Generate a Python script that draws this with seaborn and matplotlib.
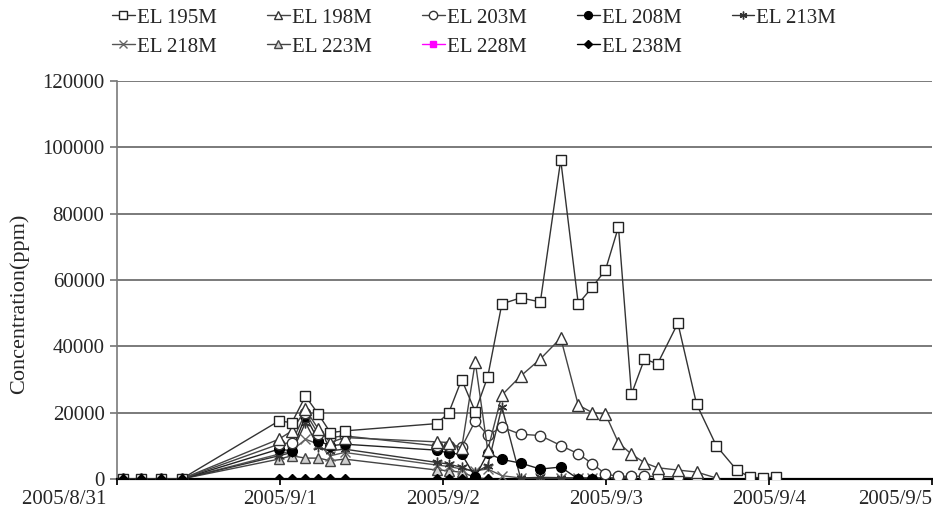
import numpy as np
import pandas as pd
import matplotlib
matplotlib.use("Agg")
import matplotlib.pyplot as plt
import seaborn as sns

nan = np.nan

# sampling times
times = ["2005-08-31 00:50", "2005-08-31 03:35", "2005-08-31 06:25", "2005-08-31 09:30",
         "2005-08-31 23:50", "2005-09-01 01:45", "2005-09-01 03:45", "2005-09-01 05:40",
         "2005-09-01 07:25", "2005-09-01 09:30",
         "2005-09-01 23:05", "2005-09-02 00:50", "2005-09-02 02:45", "2005-09-02 04:45",
         "2005-09-02 06:35", "2005-09-02 08:40", "2005-09-02 11:25", "2005-09-02 14:20",
         "2005-09-02 17:20", "2005-09-02 19:55", "2005-09-02 22:00", "2005-09-02 23:55",
         "2005-09-03 01:50", "2005-09-03 03:45", "2005-09-03 05:40", "2005-09-03 07:35",
         "2005-09-03 10:35", "2005-09-03 13:20", "2005-09-03 16:15", "2005-09-03 19:15",
         "2005-09-03 21:10", "2005-09-03 23:05", "2005-09-04 01:00"]

el195 = [0, 0, 0, 0, 17500, 17000, 25000, 19500, 14000, 14500,
         16700, 19900, 30000, 20300, 30800, 52800, 54600, 53400, 96200, 52800,
         57900, 63000, 76000, 25600, 36200, 34700, 47000, 22600, 10000, 2700,
         600, 300, 600]
el198 = [0, 0, 0, 0, 12000, 14500, 21000, 15000, 11000, 12500,
         11200, 11000, 9300, 35300, 8700, 25300, 31000, 36200, 42500, 22300,
         20000, 19600, 10900, 7500, 4900, 3400, 2700, 2100, 300, nan,
         nan, nan, nan]
el203 = [0, 0, 0, 0, 10500, 11000, 20000, 13500, 12500, 13000,
         10000, 9800, 9600, 17500, 13200, 15600, 13500, 13100, 10100, 7600,
         4600, 1500, 800, 800, 800, 800, 600, 300, nan, nan,
         nan, nan, nan]
el208 = [0, 0, 0, 0, 9000, 8500, 19000, 11500, 10000, 10500,
         8700, 7800, 7500, 600, 7800, 5900, 4800, 3000, 3600, 0,
         0, 0, nan, nan, nan, nan, nan, nan, nan, nan,
         nan, nan, nan]
el213 = [0, 0, 0, 0, 7000, 8000, 17000, 9500, 8500, 9000,
         5000, 4500, 3500, 2000, 4000, 21700, 300, 500, 400, 300,
         300, 300, 300, 300, nan, nan, nan, nan, nan, nan,
         nan, nan, nan]
el218 = [0, 0, 0, 0, 7500, 8500, 12000, 10500, 7000, 8000,
         4200, 3800, 3000, 2500, 3000, 1000, 300, 300, 300, 300,
         300, 300, 300, 300, nan, nan, nan, nan, nan, nan,
         nan, nan, nan]
el223 = [0, 0, 0, 0, 6000, 7000, 6300, 6300, 5500, 6000,
         2700, 2500, 2000, 500, 0, nan, nan, nan, nan, nan,
         nan, nan, nan, nan, nan, nan, nan, nan, nan, nan,
         nan, nan, nan]
el228 = [0, 0, 0, 0, nan, nan, nan, nan, nan, nan,
         nan, nan, nan, nan, nan, nan, nan, nan, nan, nan,
         nan, nan, nan, nan, nan, nan, nan, nan, nan, nan,
         nan, nan, nan]
el238 = [0, 0, 0, 0, 0, 0, 0, 0, 0, 0,
         0, 0, 0, 0, 0, nan, nan, nan, nan, nan,
         nan, nan, nan, nan, nan, nan, nan, nan, nan, nan,
         nan, nan, nan]

names = ["EL 195M", "EL 198M", "EL 203M", "EL 208M", "EL 213M",
         "EL 218M", "EL 223M", "EL 228M", "EL 238M"]
values = [el195, el198, el203, el208, el213, el218, el223, el228, el238]
xtick_dates = ["2005-08-31", "2005-09-01", "2005-09-02", "2005-09-03", "2005-09-04", "2005-09-05"]
xtick_labels = ["2005/8/31", "2005/9/1", "2005/9/2", "2005/9/3", "2005/9/4", "2005/9/5"]
yticks = [0, 20000, 40000, 60000, 80000, 100000, 120000]

sns.set_theme(style="white")
plt.rcParams["font.family"] = ["Liberation Serif", "DejaVu Serif"]

styles = {
    "EL 195M": dict(marker="s", markersize=7.5, markerfacecolor="white", markeredgecolor="#222222", color="#333333"),
    "EL 198M": dict(marker="^", markersize=8, markerfacecolor="white", markeredgecolor="#333333", color="#444444"),
    "EL 203M": dict(marker="o", markersize=7.5, markerfacecolor="white", markeredgecolor="#333333", color="#444444"),
    "EL 208M": dict(marker="o", markersize=7, markerfacecolor="black", markeredgecolor="black", color="#222222"),
    "EL 213M": dict(marker=(6, 2, 0), markersize=7, markerfacecolor="black", markeredgecolor="#333333", color="#333333"),
    "EL 218M": dict(marker="x", markersize=6.5, markerfacecolor="#666666", markeredgecolor="#666666", color="#555555"),
    "EL 223M": dict(marker="^", markersize=7.5, markerfacecolor="#d0d0d0", markeredgecolor="#444444", color="#444444"),
    "EL 228M": dict(marker="s", markersize=6, markerfacecolor="#ff00ff", markeredgecolor="#ff00ff", color="#ff00ff"),
    "EL 238M": dict(marker="D", markersize=5.5, markerfacecolor="black", markeredgecolor="black", color="black"),
}

fig = plt.figure(figsize=(9.33, 5.16), dpi=100)
ax = fig.add_axes([117 / 933, 1 - 479 / 516, (932 - 117) / 933, (479 - 81) / 516])

t = pd.to_datetime(times)
draw_order = ["EL 228M", "EL 223M", "EL 218M", "EL 213M", "EL 208M",
              "EL 203M", "EL 198M", "EL 195M", "EL 238M"]
series = dict(zip(names, values))
for z, name in enumerate(draw_order):
    v = np.array(series[name], dtype=float)
    m = ~np.isnan(v)
    df = pd.DataFrame({"t": t[m], "v": v[m]})
    st = styles[name]
    sns.lineplot(data=df, x="t", y="v", ax=ax, label=name, lw=1.0,
                 markeredgewidth=1.0, zorder=3 + z, **st)

ax.set_xlim(pd.Timestamp(xtick_dates[0]), pd.Timestamp(xtick_dates[-1]))
ax.set_ylim(0, 120000)
ax.set_xticks(pd.to_datetime(xtick_dates))
shown = list(xtick_labels)
shown[0] = shown[0] + "\u2007"
ax.set_xticklabels(shown, fontsize=15)
labs = ax.get_xticklabels()
labs[0].set_ha("right")
labs[-1].set_ha("right")
ax.set_yticks(yticks)
ax.set_yticklabels([str(y) for y in yticks], fontsize=15)
ax.set_xlabel("")
ax.set_ylabel("Concentration(ppm)", fontsize=16)
ax.yaxis.set_label_coords(-0.108, 0.44)

ax.yaxis.grid(True, color="#7a7a7a", lw=1.4)
ax.xaxis.grid(False)
ax.set_axisbelow(True)
for s in ["top", "right"]:
    ax.spines[s].set_visible(False)
ax.spines["left"].set_color("#7a7a7a")
ax.spines["left"].set_linewidth(1.2)
ax.spines["bottom"].set_color("black")
ax.spines["bottom"].set_linewidth(1.6)
ax.tick_params(axis="y", direction="out", length=5, color="#7a7a7a", left=True, pad=4)
ax.tick_params(axis="x", direction="out", length=4, color="black", bottom=True, pad=4)

handles, labels = ax.get_legend_handles_labels()
hmap = dict(zip(labels, handles))
order = ["EL 195M", "EL 218M", "EL 198M", "EL 223M", "EL 203M", "EL 228M",
         "EL 208M", "EL 238M", "EL 213M"]
ax.legend_.remove()
fig.legend([hmap[k] for k in order], order, ncol=5, loc="upper left",
           bbox_to_anchor=(112 / 933, 1 - 8 / 516), frameon=False, fontsize=15,
           handlelength=1.1, handletextpad=0.1, columnspacing=2.4,
           labelspacing=0.45, borderpad=0, borderaxespad=0, markerscale=0.8)

fig.savefig("out.png", dpi=100)
